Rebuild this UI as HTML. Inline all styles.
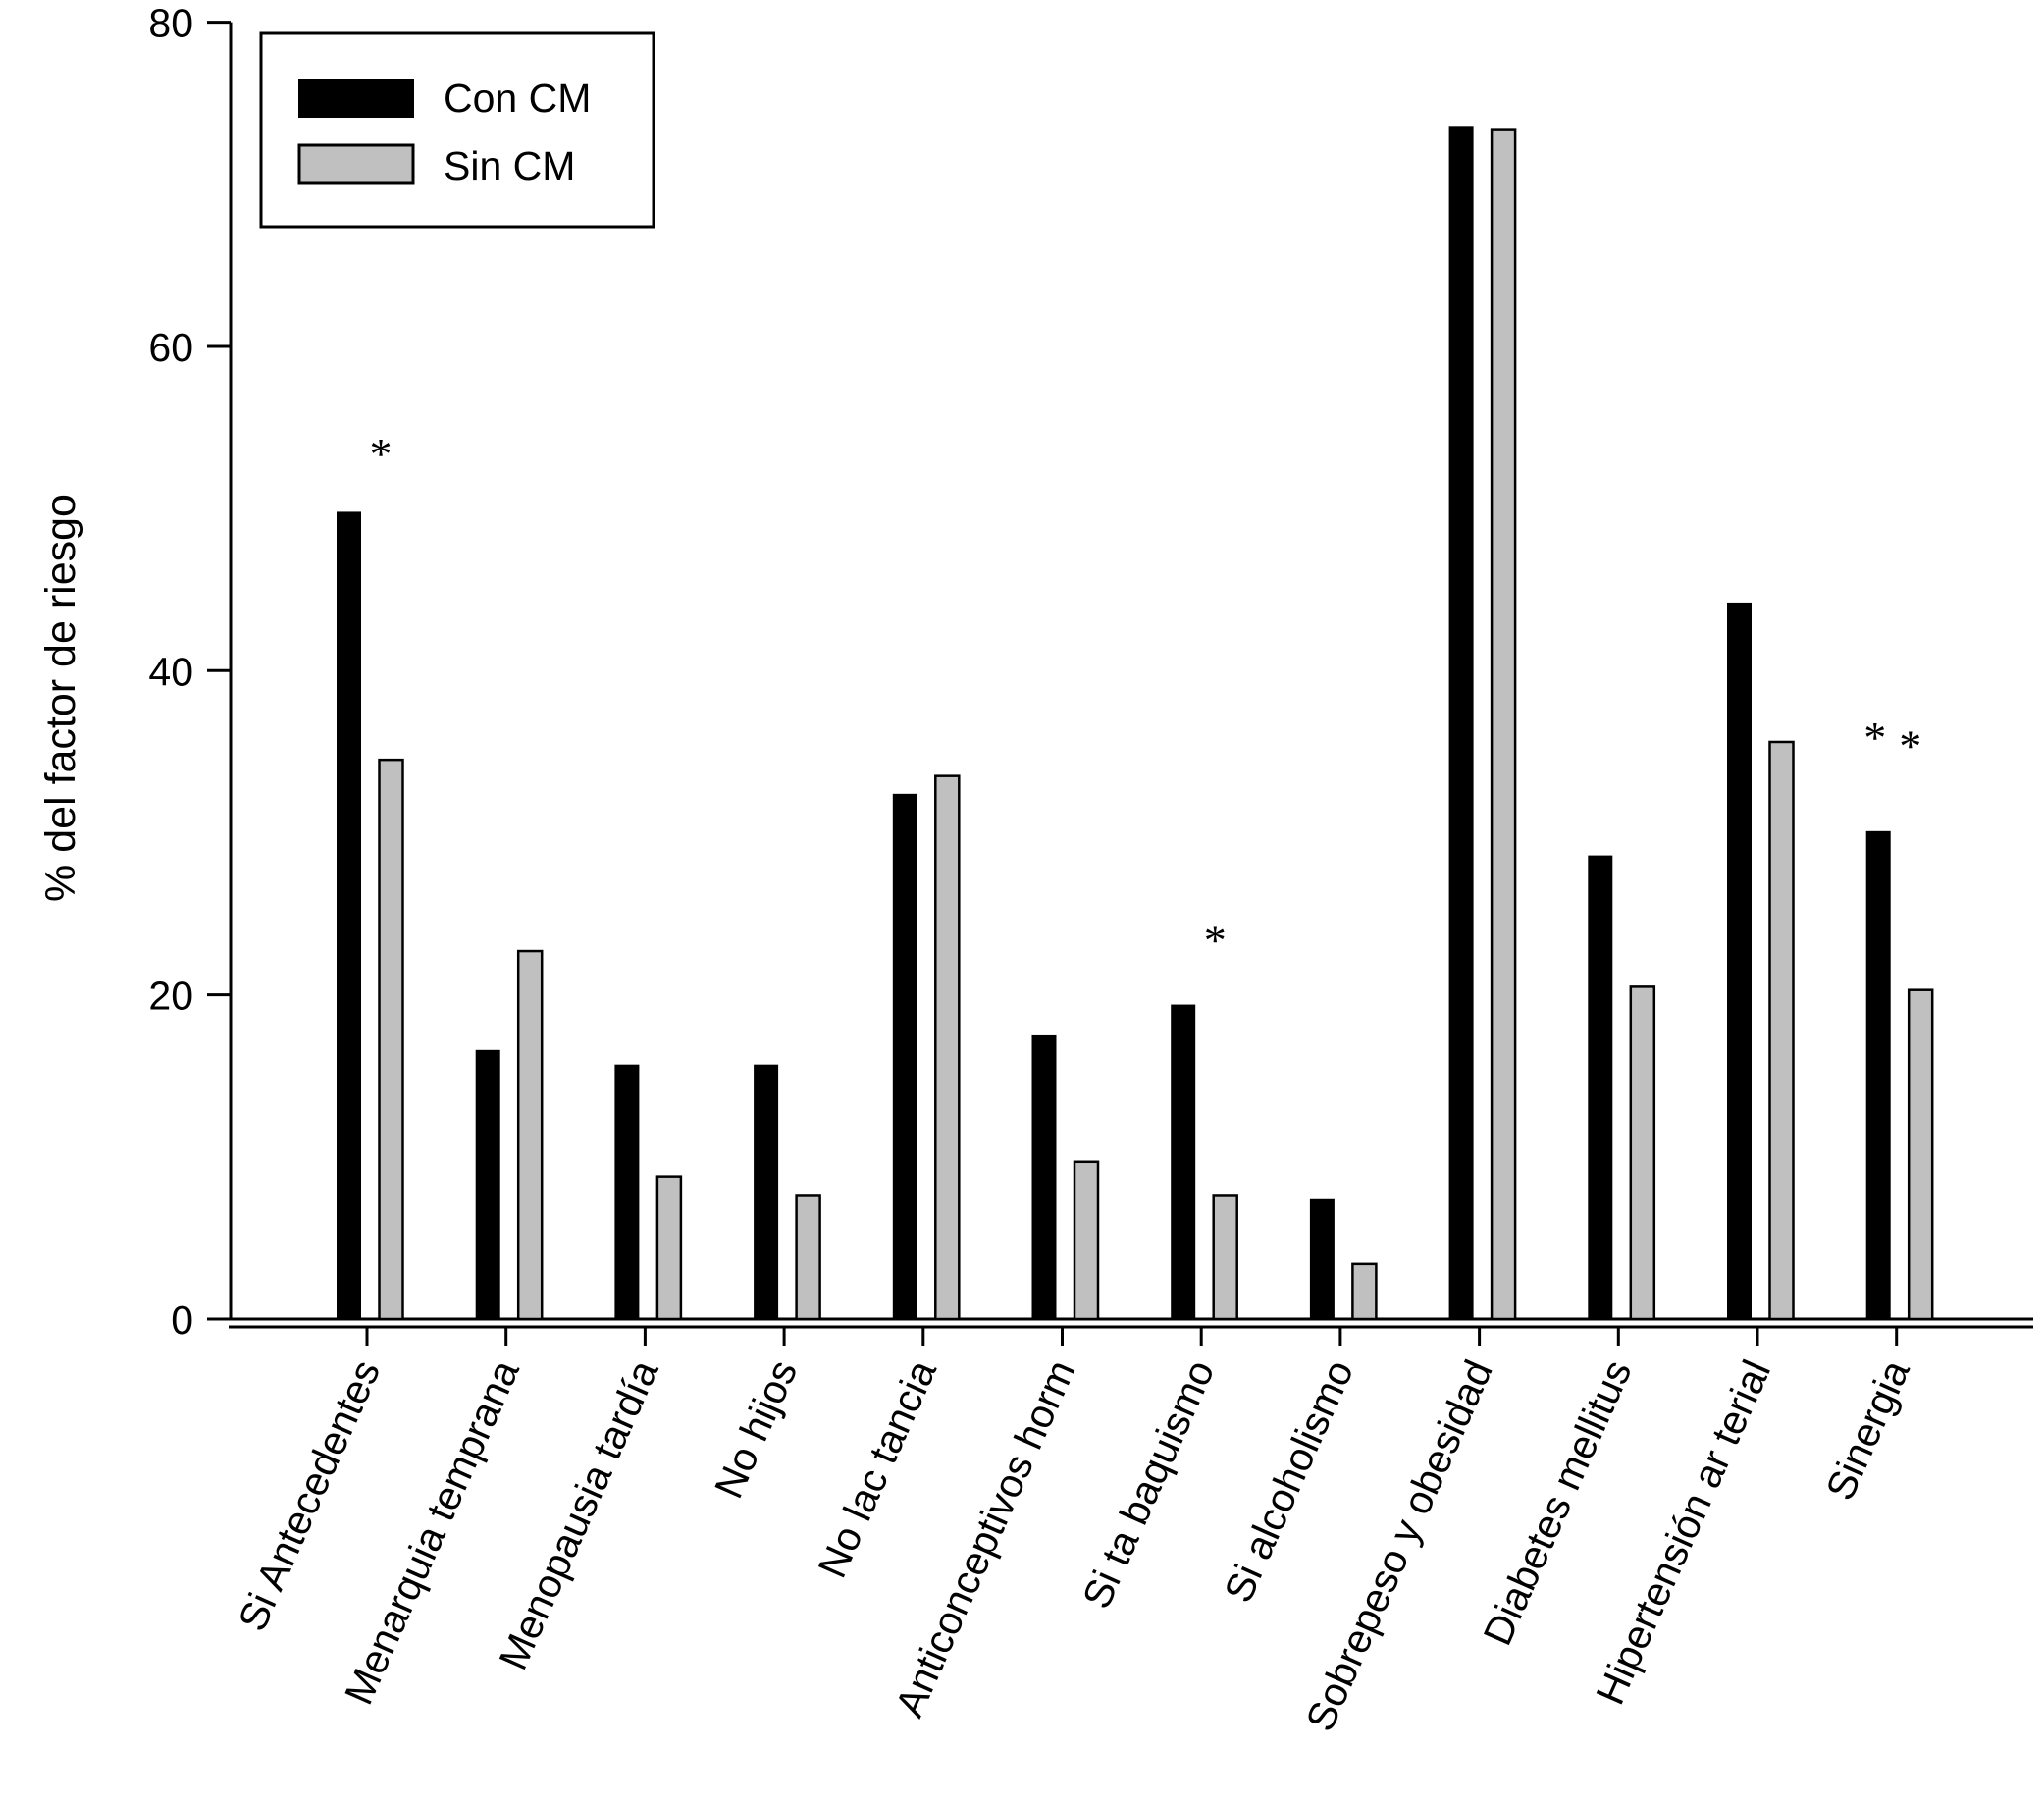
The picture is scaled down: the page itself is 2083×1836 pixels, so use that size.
<!DOCTYPE html>
<html><head><meta charset="utf-8"><style>
html,body{margin:0;padding:0;background:#fff;}
svg{display:block;font-family:"Liberation Sans",sans-serif;}
</style></head><body>
<svg id="chart" width="2083" height="1836" viewBox="0 0 2083 1836"></svg>
<script>
const categories=["Si Antecedentes","Menarquia temprana","Menopausia tardía","No hijos","No lac tancia","Anticonceptivos horm","Si ta baquismo","Si alcoholismo","Sobrepeso y obesidad","Diabetes mellitus","Hipertensión ar terial","Sinergia"];
const conCM=[49.8,16.6,15.7,15.7,32.4,17.5,19.4,7.4,73.6,28.6,44.2,30.1];
const sinCM=[34.5,22.7,8.8,7.6,33.5,9.7,7.6,3.4,73.4,20.5,35.6,20.3];
const yTicks=[0,20,40,60,80];
const starCats=[0,6,11,11];
const starSeries=[1,1,0,1];
const starValues=[54,24,36.5,36];

const svg=document.getElementById('chart');
const NS='http://www.w3.org/2000/svg';
function mk(tag,attrs,parent){const e=document.createElementNS(NS,tag);for(const k in attrs)e.setAttribute(k,attrs[k]);(parent||svg).appendChild(e);return e;}
const y0=1344, y80=22.6;
function yScale(v){return y0-(v/80)*(y0-y80);}
function xTick(i){return 374+i*141.7;}

let e=mk('line',{x1:235,y1:y80,x2:235,y2:y0,stroke:'#000','stroke-width':3});


yTicks.forEach(t=>{
  const y=yScale(t);
  let l=mk('line',{x1:211,y1:y,x2:235,y2:y,stroke:'#000','stroke-width':3});
  
  
  let tx=mk('text',{x:197,y:y+15,'text-anchor':'end','font-size':41,fill:'#000'});
  tx.textContent=t;
  
  
});
e=mk('line',{x1:211,y1:y0,x2:2072,y2:y0,stroke:'#000','stroke-width':3});


e=mk('line',{x1:233,y1:1352,x2:2072,y2:1352,stroke:'#000','stroke-width':3});



e=mk('text',{x:0,y:0,transform:'translate(76,711) rotate(-90)','text-anchor':'middle','font-size':43,fill:'#000'});
e.textContent='% del factor de riesgo';



categories.forEach((c,i)=>{
  const xt=xTick(i);
  let b=mk('rect',{x:xt-31,y:yScale(conCM[i]),width:25,height:y0-yScale(conCM[i]),fill:'#000'});
  
  
  let g=mk('rect',{x:xt+12.5,y:yScale(sinCM[i]),width:24,height:y0-yScale(sinCM[i]),fill:'#c0c0c0',stroke:'#000','stroke-width':2.5});
  
  
  let tk=mk('line',{x1:xt,y1:1352,x2:xt,y2:1371,stroke:'#000','stroke-width':3});
  
  
  let tx=mk('text',{x:0,y:0,transform:'translate('+(xt+14)+',1394) rotate(-66)','text-anchor':'end','font-size':41,fill:'#000'});
  tx.textContent=c;
  
  
});

starCats.forEach((ci,k)=>{
  const xt=xTick(ci);
  const cx=starSeries[k]===0?xt-22:xt+14;
  let s=mk('text',{x:cx,y:yScale(starValues[k])+26,'text-anchor':'middle','font-size':46,fill:'#000','font-family':'Liberation Serif,serif'});
  s.textContent='*';
  
  
});

const lg=mk('g',{});


e=mk('rect',{x:266,y:34,width:400,height:197,fill:'#fff',stroke:'#000','stroke-width':3},lg);


e=mk('rect',{x:304,y:80,width:118,height:40,fill:'#000'},lg);


e=mk('text',{x:452,y:114,'font-size':41,fill:'#000'},lg);
e.textContent='Con CM';


e=mk('rect',{x:305,y:148,width:116,height:38,fill:'#c0c0c0',stroke:'#000','stroke-width':3},lg);


e=mk('text',{x:452,y:183,'font-size':41,fill:'#000'},lg);
e.textContent='Sin CM';


</script>
</body></html>
